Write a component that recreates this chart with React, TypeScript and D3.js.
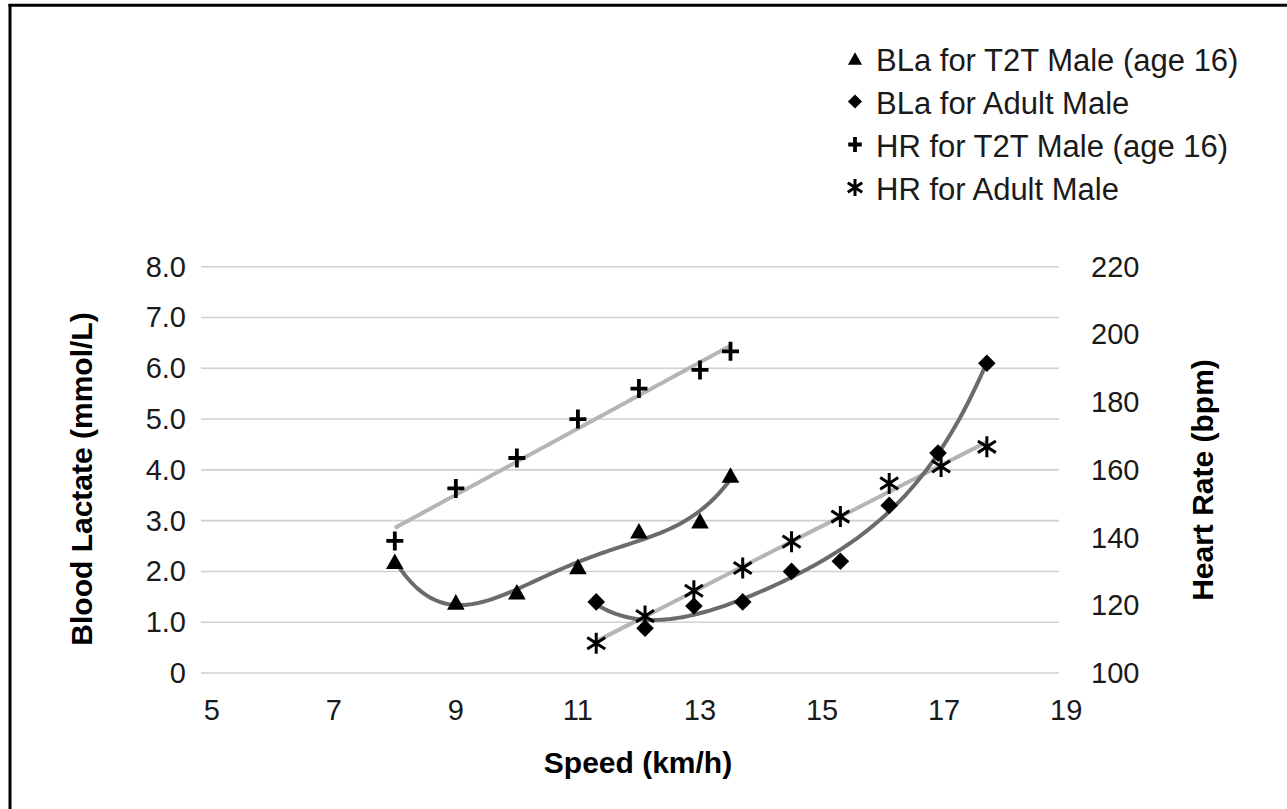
import React from 'react';
import * as d3 from 'd3';

// speeds (km/h)
const speedT2T = [8, 9, 10, 11, 12, 13, 13.5];
const speedAdult = [11.3, 12.1, 12.9, 13.7, 14.5, 15.3, 16.1, 16.9, 17.7];
const speedAdultHR = [11.3, 12.1, 12.9, 13.7, 14.5, 15.3, 16.1, 16.95, 17.7];

// blood lactate (mmol/L)
const blaT2T = [2.2, 1.4, 1.6, 2.1, 2.8, 3.0, 3.9];
const blaAdult = [1.4, 0.88, 1.32, 1.4, 2.0, 2.2, 3.3, 4.33, 6.1];

// heart rate (bpm)
const hrT2T = [139, 154.5, 163.5, 175, 184, 189.5, 195];
const hrAdult = [108.8, 116.8, 124.3, 131, 138.8, 146.2, 156, 161, 166.8];

const xTicks = [5, 7, 9, 11, 13, 15, 17, 19];
const blaTicks = [0, 1, 2, 3, 4, 5, 6, 7, 8];
const hrTicks = [100, 120, 140, 160, 180, 200, 220];

const legendLabels = [
  'BLa for T2T Male (age 16)',
  'BLa for Adult Male',
  'HR for T2T Male (age 16)',
  'HR for Adult Male',
];
const legendShapes = ['triangle', 'diamond', 'plus', 'asterisk'];

const W = 1287;
const H = 809;
const gridLeft = 201;
const gridRight = 1059;
const FONT = '"Liberation Sans", Arial, Helvetica, sans-serif';

const x = d3.scaleLinear().domain([5, 19]).range([211.7, 1066.2]);
const yL = d3.scaleLinear().domain([0, 8]).range([673, 266.7]);
const yR = d3.scaleLinear().domain([100, 220]).range([673, 266.7]);

// least-squares polynomial fit (like a spreadsheet trendline)
function polyfit(xs: number[], ys: number[], order: number) {
  const mx = d3.mean(xs) as number;
  const n = order + 1;
  const A: number[][] = [];
  for (let i = 0; i < n; i++) {
    A.push(new Array(n + 1).fill(0));
  }
  xs.forEach((xv, k) => {
    const t = xv - mx;
    for (let i = 0; i < n; i++) {
      for (let j = 0; j < n; j++) A[i][j] += Math.pow(t, i + j);
      A[i][n] += ys[k] * Math.pow(t, i);
    }
  });
  // gaussian elimination
  for (let c = 0; c < n; c++) {
    let p = c;
    for (let r = c + 1; r < n; r++) if (Math.abs(A[r][c]) > Math.abs(A[p][c])) p = r;
    [A[c], A[p]] = [A[p], A[c]];
    for (let r = 0; r < n; r++) {
      if (r === c) continue;
      const f = A[r][c] / A[c][c];
      for (let k = c; k <= n; k++) A[r][k] -= f * A[c][k];
    }
  }
  const coef = A.map((row, i) => row[n] / row[i]);
  return (v: number) => coef.reduce((s, cf, i) => s + cf * Math.pow(v - mx, i), 0);
}

function trend(xs: number[], ys: number[], order: number) {
  const f = polyfit(xs, ys, order);
  const lo = d3.min(xs) as number;
  const hi = d3.max(xs) as number;
  return d3.range(0, 101).map(i => {
    const v = lo + ((hi - lo) * i) / 100;
    return [v, f(v)] as [number, number];
  });
}

function Marker({ shape, cx, cy, s = 1, sw = 1 }: { shape: string; cx: number; cy: number; s?: number; sw?: number }) {
  const t = `translate(${cx},${cy}) scale(${s})`;
  if (shape === 'triangle') {
    return <path transform={t} d="M0,-7.8L8.8,7.8L-8.8,7.8Z" fill="#000" />;
  }
  if (shape === 'diamond') {
    return <path transform={t} d="M0,-8.8L8.8,0L0,8.8L-8.8,0Z" fill="#000" />;
  }
  if (shape === 'plus') {
    return (
      <path transform={t} d="M-8.5,0H8.5M0,-9.5V9.5" stroke="#000" strokeWidth={3.8 * sw} fill="none" />
    );
  }
  return (
    <path
      transform={t}
      d="M0,-10.5V10.5M-9,-5.8L9,5.8M-9,5.8L9,-5.8"
      stroke="#000"
      strokeWidth={3 * sw}
      fill="none"
    />
  );
}

export default function App() {
  const lineL = d3.line<[number, number]>().x(d => x(d[0])).y(d => yL(d[1]));
  const lineR = d3.line<[number, number]>().x(d => x(d[0])).y(d => yR(d[1]));

  const blaT2TCurve = trend(speedT2T, blaT2T, 4);
  const blaAdultCurve = trend(speedAdult, blaAdult, 4);
  const hrT2TLine = trend(speedT2T, hrT2T, 1);
  const hrAdultLine = trend(speedAdultHR, hrAdult, 1);

  return (
    <svg
      width={W}
      height={H}
      style={{ position: 'absolute', left: 0, top: 0, background: '#fff' }}
      fontFamily={FONT}
    >
      <rect width={W} height={H} fill="#fff" />
      {/* frame */}
      <line x1={8.5} x2={W} y1={5.3} y2={5.3} stroke="#000" strokeWidth={3} />
      <line x1={10} x2={10} y1={4} y2={H} stroke="#000" strokeWidth={3} />

      {/* gridlines */}
      {blaTicks.map(t => (
        <line key={t} x1={gridLeft} x2={gridRight} y1={yL(t)} y2={yL(t)} stroke="#d0d0d0" strokeWidth={1.6} />
      ))}

      {/* left axis labels */}
      {blaTicks.map(t => (
        <text key={t} x={186} y={yL(t) + 10} textAnchor="end" fontSize={29} fill="#1a1a1a">
          {t === 0 ? '0' : d3.format('.1f')(t)}
        </text>
      ))}
      {/* right axis labels */}
      {hrTicks.map(t => (
        <text key={t} x={1139.5} y={yR(t) + 10} textAnchor="end" fontSize={29} fill="#1a1a1a">
          {t}
        </text>
      ))}
      {/* x axis labels */}
      {xTicks.map(t => (
        <text key={t} x={x(t)} y={720} textAnchor="middle" fontSize={29} fill="#1a1a1a">
          {t}
        </text>
      ))}

      {/* axis titles */}
      <text x={638} y={773} textAnchor="middle" fontSize={30} fontWeight="bold" fill="#000">
        Speed (km/h)
      </text>
      <text
        transform="translate(92,479) rotate(-90)"
        textAnchor="middle"
        fontSize={30}
        fontWeight="bold"
        fill="#000"
      >
        Blood Lactate (mmol/L)
      </text>
      <text
        transform="translate(1213,480) rotate(-90)"
        textAnchor="middle"
        fontSize={30}
        fontWeight="bold"
        fill="#000"
      >
        Heart Rate (bpm)
      </text>

      {/* trendlines */}
      <path d={lineR(hrT2TLine) || ''} fill="none" stroke="#b5b5b5" strokeWidth={4} />
      <path d={lineR(hrAdultLine) || ''} fill="none" stroke="#b5b5b5" strokeWidth={4} />
      <path d={lineL(blaT2TCurve) || ''} fill="none" stroke="#6b6b6b" strokeWidth={4} />
      <path d={lineL(blaAdultCurve) || ''} fill="none" stroke="#6b6b6b" strokeWidth={4} />

      {/* markers */}
      {speedT2T.map((s, i) => (
        <Marker key={'t' + i} shape="triangle" cx={x(s)} cy={yL(blaT2T[i])} />
      ))}
      {speedAdult.map((s, i) => (
        <Marker key={'d' + i} shape="diamond" cx={x(s)} cy={yL(blaAdult[i])} />
      ))}
      {speedT2T.map((s, i) => (
        <Marker key={'p' + i} shape="plus" cx={x(s)} cy={yR(hrT2T[i])} />
      ))}
      {speedAdultHR.map((s, i) => (
        <Marker key={'a' + i} shape="asterisk" cx={x(s)} cy={yR(hrAdult[i])} />
      ))}

      {/* legend */}
      {legendLabels.map((lab, i) => (
        <g key={lab}>
          <Marker shape={legendShapes[i]} cx={855} cy={58.5 + i * 43} s={0.8} sw={1.25} />
          <text x={876} y={60 + i * 43 + 10.5} fontSize={31} fill="#1a1a1a">
            {lab}
          </text>
        </g>
      ))}
    </svg>
  );
}
